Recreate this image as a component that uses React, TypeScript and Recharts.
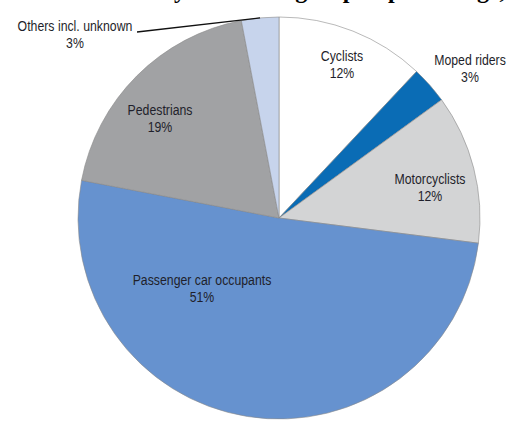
import React from 'react';
import { PieChart, Pie, Cell } from 'recharts';

// road user groups, clockwise from 12 o'clock
const groups = ['Cyclists', 'Moped riders', 'Motorcyclists', 'Passenger car occupants', 'Pedestrians', 'Others incl. unknown'];
const shares = [12, 3, 12, 51, 19, 3];
const colors = ['#ffffff', '#0a6cb5', '#d3d4d5', '#6692cf', '#a1a2a4', '#c7d4ec'];

const title = 'Road fatalities by road user group in percentage, 2015';

const data = groups.map((name, i) => ({ name, value: shares[i] }));

// label centre offsets from the pie centre
const labelOffset: Record<string, [number, number]> = {
  'Cyclists': [63, -153],
  'Moped riders': [191, -149],
  'Motorcyclists': [151, -30],
  'Passenger car occupants': [-77, 71],
  'Pedestrians': [-119, -99],
  'Others incl. unknown': [-204, -183],
};

const RAD = Math.PI / 180;
const font = '"Liberation Sans", Arial, sans-serif';

// condensed sans look: squeeze the text horizontally
const NarrowText = ({ x, y, children }: { x: number; y: number; children: React.ReactNode }) => (
  <text
    transform={`translate(${x},${y}) scale(0.82,1)`}
    textAnchor="middle"
    dominantBaseline="central"
    fill="#1f1f2b"
    fontSize={15}
    fontFamily={font}
  >
    {children}
  </text>
);

const renderLabel = (props: any) => {
  const { cx, cy, midAngle, outerRadius, name, value } = props;
  const [dx, dy] = labelOffset[name] || [0, 0];
  const x = cx + dx;
  const y = cy + dy;
  let leader = null;
  if (name === 'Others incl. unknown') {
    const ex = cx + outerRadius * Math.cos(-midAngle * RAD);
    const ey = cy + outerRadius * Math.sin(-midAngle * RAD);
    leader = <line x1={x + 62} y1={y - 3} x2={ex} y2={ey} stroke="#111" strokeWidth={1.3} />;
  }
  return (
    <g>
      {leader}
      <NarrowText x={x} y={y - 8.5}>{name}</NarrowText>
      <NarrowText x={x} y={y + 8.5}>{`${value}%`}</NarrowText>
    </g>
  );
};

export default function App() {
  return (
    <div style={{ position: 'absolute', left: 0, top: 0, width: 519, height: 430, background: '#fff', overflow: 'hidden' }}>
      <PieChart width={519} height={430} margin={{ top: 0, right: 0, bottom: 0, left: 0 }}>
        <Pie
          data={data}
          dataKey="value"
          nameKey="name"
          cx={279}
          cy={218}
          outerRadius={201}
          startAngle={90}
          endAngle={-270}
          stroke="#8a8a8a"
          strokeWidth={0.6}
          label={renderLabel}
          labelLine={false}
          isAnimationActive={false}
        >
          {data.map((d, i) => (
            <Cell key={d.name} fill={colors[i]} />
          ))}
        </Pie>
      </PieChart>
      <svg width={519} height={20} style={{ position: 'absolute', left: 0, top: 0 }}>
        <text x={6} y={-2} fontSize={24} fontWeight="bold" fontFamily='"Liberation Serif", "Times New Roman", serif' fill="#000">
          {title}
        </text>
      </svg>
    </div>
  );
}
